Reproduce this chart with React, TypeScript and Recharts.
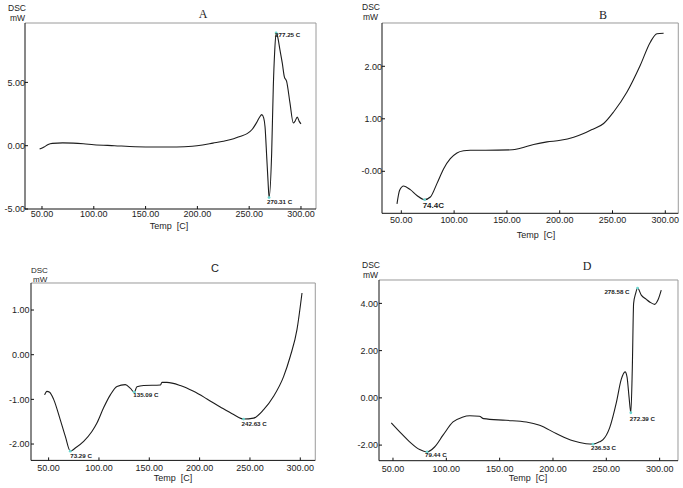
import React from 'react';
import { LineChart, Line, XAxis, YAxis, ReferenceDot, ReferenceLine } from 'recharts';

// DSC curves, temperature (C) and heat flow (mW)
const tempA = [47.7, 52, 56, 60, 70, 80, 90, 100, 120, 140, 160, 180, 195, 205, 215, 225, 235, 241, 248, 253, 257, 260, 262.2, 264, 265.3, 267, 268.2, 269.2, 271.7, 273.3, 274.6, 276, 277.5, 279.7, 282, 283.9, 286.2, 289.4, 292.6, 294.2, 296.4, 298.3, 300];
const dscA = [-0.26, -0.1, 0.1, 0.18, 0.22, 0.2, 0.15, 0.08, 0.0, -0.08, -0.1, -0.1, -0.05, 0.05, 0.2, 0.35, 0.55, 0.73, 0.95, 1.3, 1.8, 2.25, 2.45, 2.2, 1.5, -1.0, -2.8, -4.1, -0.6, 4.7, 7.4, 8.9, 8.6, 7.56, 6.5, 5.46, 5.06, 3.36, 1.79, 1.92, 2.26, 1.92, 1.73];

const tempB = [45.9, 48.4, 52.2, 58.5, 64.8, 72.1, 77.5, 83.8, 90.1, 96.4, 102.7, 109, 115.3, 130, 155, 162.7, 175.3, 188, 200.6, 213.2, 222.6, 230, 241.6, 251, 263.7, 276.3, 285.8, 292.1, 298.4];
const dscB = [-0.62, -0.36, -0.28, -0.35, -0.46, -0.54, -0.49, -0.23, 0.05, 0.24, 0.35, 0.39, 0.4, 0.4, 0.41, 0.44, 0.51, 0.56, 0.59, 0.65, 0.72, 0.79, 0.91, 1.13, 1.51, 2.02, 2.46, 2.62, 2.63];

const tempC = [46, 48.3, 51, 55, 61.6, 66.6, 71.5, 76.5, 84.8, 93, 98, 104.6, 111.3, 117.9, 126.2, 131.1, 135.1, 137.7, 144.4, 161, 162.6, 167.5, 180.8, 194, 207.3, 220.5, 233.8, 243.7, 253.6, 263.6, 273.5, 283.4, 290, 296.7, 301.7];
const dscC = [-0.9, -0.82, -0.84, -1.0, -1.46, -1.83, -2.16, -2.09, -1.94, -1.72, -1.53, -1.19, -0.9, -0.71, -0.67, -0.75, -0.84, -0.72, -0.69, -0.68, -0.62, -0.62, -0.69, -0.82, -0.99, -1.17, -1.34, -1.44, -1.42, -1.23, -0.93, -0.49, -0.04, 0.56, 1.38];

const tempD = [48.4, 56.3, 65.6, 75, 81.9, 89, 96.9, 106.3, 115, 122, 131, 135, 156, 175, 187.5, 203, 218.8, 231, 237.5, 243.7, 246.9, 253.1, 259.4, 264, 267.6, 269.4, 271.3, 273, 274.4, 275.6, 277.5, 279.3, 282.8, 287.5, 291, 295.3, 298.5, 301.5];
const dscD = [-1.06, -1.44, -1.86, -2.19, -2.29, -2.08, -1.58, -1.02, -0.82, -0.76, -0.78, -0.88, -0.95, -1.02, -1.16, -1.51, -1.82, -1.94, -1.96, -1.86, -1.77, -1.27, -0.2, 0.78, 1.1, 0.89, 0.04, -0.63, 1.31, 4.0, 4.42, 4.65, 4.35, 4.17, 4.05, 3.96, 4.15, 4.56];

// peak annotations
const markTempA = [276, 269.2];
const markDscA = [8.9, -4.1];
const markTextA = ['277.25 C', '270.31 C'];
const markTempB = [72.1];
const markDscB = [-0.54];
const markTextB = ['74.4C'];
const markTempC = [71.5, 135.1, 243.7];
const markDscC = [-2.16, -0.84, -1.44];
const markTextC = ['73.29 C', '135.09 C', '242.63 C'];
const markTempD = [81.9, 237.5, 273, 279.3];
const markDscD = [-2.29, -1.96, -0.63, 4.65];
const markTextD = ['79.44 C', '236.53 C', '272.39 C', '278.58 C'];

const xTicks = [50, 100, 150, 200, 250, 300];
const yTicksA = [-5, 0, 5];
const yLabelsA = ['-5.00', '0.00', '5.00'];
const yTicksB = [0, 1, 2];
const yLabelsB = ['-0.00', '1.00', '2.00'];
const yTicksC = [-2, -1, 0, 1];
const yLabelsC = ['-2.00', '-1.00', '0.00', '1.00'];
const yTicksD = [-2, 0, 2, 4];
const yLabelsD = ['-2.00', '0.00', '2.00', '4.00'];

const toRows = (ts: number[], vs: number[]) => ts.map((t, i) => ({ t, v: vs[i] }));

const SANS = '"Liberation Sans", Arial, sans-serif';
const SERIF = '"Liberation Serif", "Times New Roman", serif';
const INK = '#1c1c1c';

type Mark = { dx: number; dy: number; anchor: 'start' | 'end'; size?: number };

function markShape(text: string, m: Mark) {
  return (p: any) => (
    <g>
      <circle cx={p.cx} cy={p.cy} r={1.4} fill="#6cd6d0" />
      <text x={p.cx + m.dx} y={p.cy + m.dy} textAnchor={m.anchor} fontSize={m.size ?? 6.2}
        fontFamily={SANS} fontWeight={600} fill="#222">{text}</text>
    </g>
  );
}

// ticks drawn inward like the instrument software does
const xTick = (margin: number) => (p: any) => {
  const axisY = p.y - margin;
  return (
    <g>
      <line x1={p.x} x2={p.x} y1={axisY} y2={axisY - 3} stroke="#111" />
      <text x={p.x} y={p.y} dy="0.71em" textAnchor="middle" fontSize={9} fontFamily={SANS} fill={INK}>
        {p.payload.value.toFixed(2)}
      </text>
    </g>
  );
};

const yTick = (margin: number, ticks: number[], labels: string[]) => (p: any) => {
  const axisX = p.x + margin;
  const v = p.payload.value;
  return (
    <g>
      <line x1={axisX} x2={axisX + 3} y1={p.y} y2={p.y} stroke="#111" />
      <text x={p.x} y={p.y} dy="0.355em" textAnchor="end" fontSize={9} fontFamily={SANS} fill={INK}>
        {labels[ticks.indexOf(v)] ?? v.toFixed(2)}
      </text>
    </g>
  );
};

function Panel(props: any) {
  const { plot, xDomain, yDomain, yTicks, yLabels, rows, mt, md, mx, marks, tmx, tmy } = props;
  const YW = 40, XH = 30, M = 2;
  const w = YW + (plot.right - plot.left) + M;
  const h = M + (plot.bottom - plot.top) + XH;
  return (
    <div style={{ position: 'absolute', left: plot.left - YW, top: plot.top - M }}>
      <LineChart width={w} height={h} data={rows} margin={{ top: M, right: M, bottom: 0, left: 0 }}>
        <XAxis dataKey="t" type="number" domain={xDomain} ticks={xTicks} allowDataOverflow interval={0}
          tickLine={false} tickSize={0} tickMargin={tmx}
          axisLine={{ stroke: '#111' }} tick={xTick(tmx)} height={XH} />
        <YAxis type="number" domain={yDomain} ticks={yTicks} allowDataOverflow interval={0} width={YW}
          tickLine={false} tickSize={0} tickMargin={tmy} axisLine={{ stroke: '#111' }}
          tick={yTick(tmy, yTicks, yLabels)} />
        <ReferenceLine y={yDomain[1]} stroke="#9a9a9a" ifOverflow="visible" />
        <ReferenceLine x={xDomain[1]} stroke="#9a9a9a" ifOverflow="visible" />
        <Line dataKey="v" type="monotone" stroke={INK} strokeWidth={1.1} dot={false} isAnimationActive={false} />
        {mt.map((t: number, i: number) => (
          <ReferenceDot key={i} x={t} y={md[i]} ifOverflow="visible" shape={markShape(mx[i], marks[i])} />
        ))}
      </LineChart>
    </div>
  );
}

const txt = (s: string, x: number, y: number, size: number, family: string, align: 'left' | 'center' = 'center') => (
  <div style={{
    position: 'absolute', left: x, top: y, transform: align === 'center' ? 'translate(-50%, -50%)' : 'translate(0, -50%)',
    fontSize: size, fontFamily: family, color: INK, whiteSpace: 'pre', lineHeight: 1,
  }}>{s}</div>
);

export default function App() {
  return (
    <div style={{ position: 'absolute', left: 0, top: 0, width: 683, height: 488, background: '#fff', overflow: 'hidden' }}>
      <Panel plot={{ left: 25, top: 23, right: 316, bottom: 209 }} xDomain={[33.6, 314.5]} yDomain={[-5, 9.69]}
        yTicks={yTicksA} yLabels={yLabelsA} rows={toRows(tempA, dscA)} tmx={1.5} tmy={0}
        mt={markTempA} md={markDscA} mx={markTextA}
        marks={[{ dx: -1, dy: 4, anchor: 'start' }, { dx: -2, dy: 6, anchor: 'start' }]} />
      <Panel plot={{ left: 381.7, top: 22.7, right: 678, bottom: 213 }} xDomain={[31.7, 312.3]} yDomain={[-0.8, 2.825]}
        yTicks={yTicksB} yLabels={yLabelsB} rows={toRows(tempB, dscB)} tmx={3} tmy={0}
        mt={markTempB} md={markDscB} mx={markTextB}
        marks={[{ dx: -2, dy: 8, anchor: 'start', size: 8 }]} />
      <Panel plot={{ left: 30.7, top: 283.3, right: 315, bottom: 460.7 }} xDomain={[32.5, 314.9]} yDomain={[-2.366, 1.605]}
        yTicks={yTicksC} yLabels={yLabelsC} rows={toRows(tempC, dscC)} tmx={4.5} tmy={1.5}
        mt={markTempC} md={markDscC} mx={markTextC}
        marks={[{ dx: 0, dy: 7, anchor: 'start' }, { dx: -1, dy: 5, anchor: 'start' }, { dx: -2, dy: 7, anchor: 'start' }]} />
      <Panel plot={{ left: 379.3, top: 280, right: 678.3, bottom: 460.7 }} xDomain={[36.9, 317.2]} yDomain={[-2.66, 4.99]}
        yTicks={yTicksD} yLabels={yLabelsD} rows={toRows(tempD, dscD)} tmx={4.5} tmy={1}
        mt={markTempD} md={markDscD} mx={markTextD}
        marks={[{ dx: -2, dy: 5.5, anchor: 'start' }, { dx: -2, dy: 5.5, anchor: 'start' },
          { dx: -1, dy: 8, anchor: 'start' }, { dx: -8, dy: 6, anchor: 'end' }]} />

      {txt('A', 203, 14, 12, SERIF)}
      {txt('B', 603, 15, 12, SERIF)}
      {txt('C', 215, 268, 11, SANS)}
      {txt('D', 587, 266, 12, SERIF)}

      {txt('DSC', 8, 8, 8.5, SANS, 'left')}
      {txt('mW', 10, 18, 8.5, SANS, 'left')}
      {txt('DSC', 362, 7, 8.5, SANS, 'left')}
      {txt('mW', 363, 17, 8.5, SANS, 'left')}
      {txt('DSC', 31, 271, 8, SANS, 'left')}
      {txt('mW', 33, 279.5, 8, SANS, 'left')}
      {txt('DSC', 362, 265, 8.5, SANS, 'left')}
      {txt('mW', 363, 275, 8.5, SANS, 'left')}

      {txt('Temp  [C]', 169, 226, 9, SANS)}
      {txt('Temp  [C]', 536, 235, 9, SANS)}
      {txt('Temp  [C]', 173, 478, 9, SANS)}
      {txt('Temp  [C]', 528, 478, 9, SANS)}
    </div>
  );
}
